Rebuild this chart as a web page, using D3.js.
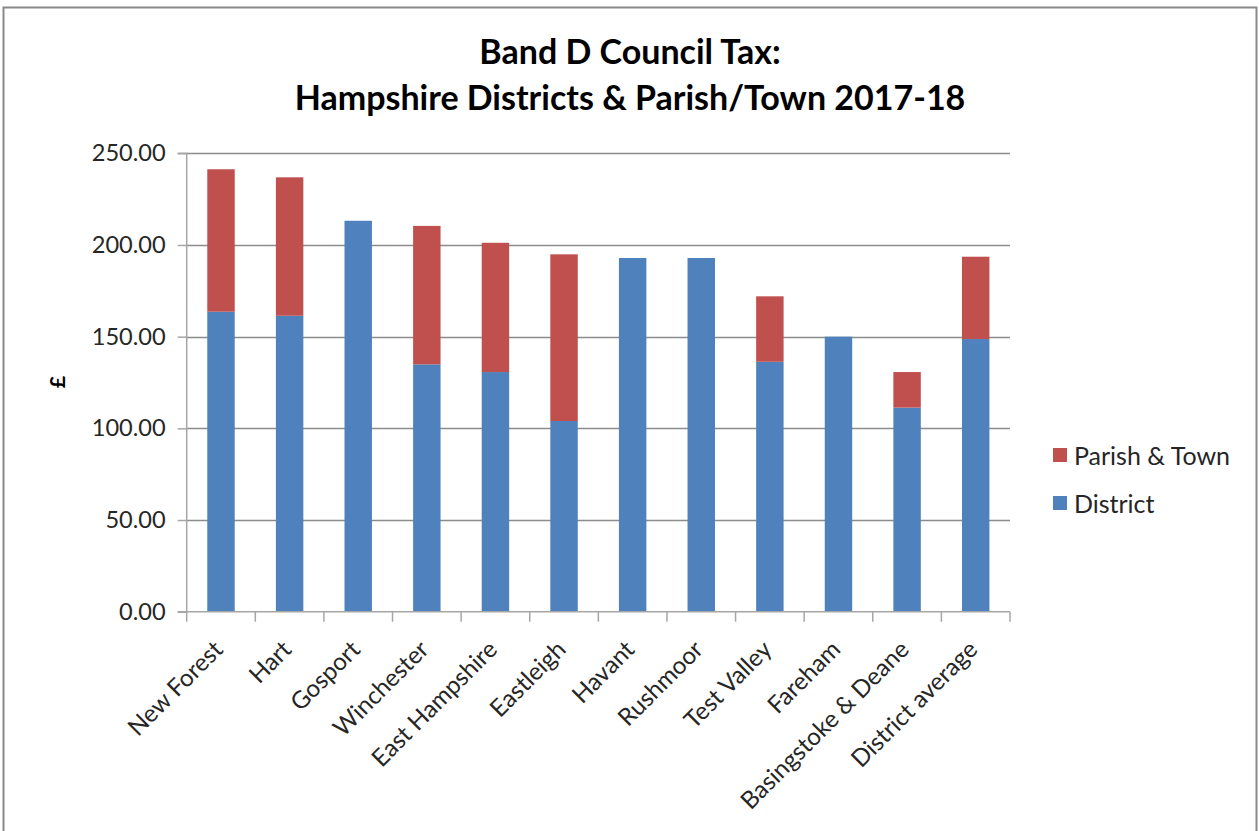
<!DOCTYPE html>
<html>
<head>
<meta charset="utf-8">
<script src="https://cdn.jsdelivr.net/npm/d3@7"></script>
<style>
  html, body { margin: 0; padding: 0; background: #fff; }
  svg { display: block; }
</style>
</head>
<body>
<svg id="chart" width="1259" height="831"></svg>
<script>
const categories = ["New Forest", "Hart", "Gosport", "Winchester", "East Hampshire", "Eastleigh",
  "Havant", "Rushmoor", "Test Valley", "Fareham", "Basingstoke & Deane", "District average"];
const district = [163.6, 161.4, 213.2, 134.9, 130.7, 104.0, 192.9, 192.9, 136.3, 150.0, 111.3, 148.7];
const parishTown = [77.7, 75.5, 0, 75.5, 70.5, 90.9, 0, 0, 35.7, 0, 19.4, 44.9];
const yTicks = [0, 50, 100, 150, 200, 250];
const seriesNames = ["Parish & Town", "District"];
const titleLines = ["Band D Council Tax:", "Hampshire Districts & Parish/Town 2017-18"];

const FONT = "Lato, 'Open Sans', 'DejaVu Sans', sans-serif";
const colors = { "District": "#4F81BD", "Parish & Town": "#C0504D" };

const svg = d3.select("#chart");

function fitSize(text, weight, targetW) {
  const t = svg.append("text").attr("font-family", FONT).attr("font-weight", weight)
    .attr("font-size", 100).text(text);
  const w = t.node().getComputedTextLength();
  t.remove();
  return 100 * targetW / w;
}

const tickSize = fitSize("250.00", 400, 74);
const catSize = fitSize("Basingstoke & Deane", 400, 226);
const legendSize = fitSize("Parish & Town", 400, 156);
const titleSize = (fitSize(titleLines[1], 700, 672) + fitSize(titleLines[0], 700, 301)) / 2;

// frame
svg.append("rect").attr("x", 3.5).attr("y", 7.5).attr("width", 1253).attr("height", 840)
  .attr("fill", "#fff").attr("stroke", "#898989").attr("stroke-width", 2);

const plot = { left: 186.7, right: 1010, top: 153.3, bottom: 611.7 };

const x = d3.scaleBand().domain(categories).range([plot.left, plot.right])
  .paddingInner(0.6).paddingOuter(0.3);
const y = d3.scaleLinear().domain([0, 250]).range([plot.bottom, plot.top]);

// gridlines
svg.append("g").selectAll("line").data(yTicks.filter(d => d > 0)).join("line")
  .attr("x1", plot.left).attr("x2", plot.right)
  .attr("y1", d => Math.round(y(d)) + 0.5).attr("y2", d => Math.round(y(d)) + 0.5)
  .attr("stroke", "#8c8c8c").attr("stroke-width", 1.3);

// stacked bars
const rows = categories.map((c, i) => ({ cat: c, "District": district[i], "Parish & Town": parishTown[i] }));
const stack = d3.stack().keys(["District", "Parish & Town"])(rows);
svg.append("g").selectAll("g").data(stack).join("g")
  .attr("fill", d => colors[d.key])
  .selectAll("rect").data(d => d.filter(p => p[1] - p[0] > 0)).join("rect")
  .attr("x", d => x(d.data.cat))
  .attr("width", x.bandwidth())
  .attr("y", d => y(d[1]))
  .attr("height", d => y(d[0]) - y(d[1]));

// y axis
const yAxis = d3.axisLeft(y).tickValues(yTicks).tickFormat(d3.format(".2f")).tickSize(9).tickPadding(12);
const gy = svg.append("g").attr("transform", `translate(${plot.left},0)`).call(yAxis);
gy.select(".domain").attr("stroke", "#a6a6a6").attr("stroke-width", 1.5).attr("d", `M-9,${plot.top}H0V${plot.bottom}H-9`);
gy.selectAll(".tick line").attr("stroke", "#a6a6a6").attr("stroke-width", 1.5);
gy.selectAll(".tick text").attr("font-family", FONT).attr("font-size", tickSize).attr("fill", "#262626")
  .attr("x", -21);

// x axis line and boundary ticks
const boundaries = d3.range(categories.length + 1).map(i => plot.left + i * x.step());
const gx = svg.append("g");
gx.append("line").attr("x1", plot.left).attr("x2", plot.right)
  .attr("y1", plot.bottom).attr("y2", plot.bottom).attr("stroke", "#a6a6a6").attr("stroke-width", 1.5);
gx.selectAll("line.tk").data(boundaries).join("line").attr("class", "tk")
  .attr("x1", d => d).attr("x2", d => d).attr("y1", plot.bottom).attr("y2", plot.bottom + 10)
  .attr("stroke", "#a6a6a6").attr("stroke-width", 1.5);

// x labels rotated
gx.selectAll("text").data(categories).join("text")
  .attr("transform", d => `translate(${x(d) + x.bandwidth() / 2 - 9},${plot.bottom + 27}) rotate(-45)`)
  .attr("text-anchor", "end")
  .attr("dy", "0.72em")
  .attr("font-family", FONT).attr("font-size", catSize).attr("fill", "#262626")
  .text(d => d);

// y axis title
svg.append("text").attr("transform", "translate(58,382) rotate(-90)")
  .attr("text-anchor", "middle").attr("dy", "0.35em")
  .attr("font-family", FONT).attr("font-weight", 700).attr("font-size", tickSize * 0.9)
  .attr("fill", "#000").text("£");

// title
svg.append("g").selectAll("text").data(titleLines).join("text")
  .attr("x", 630).attr("y", (d, i) => 64 + i * 46)
  .attr("text-anchor", "middle")
  .attr("font-family", FONT).attr("font-weight", 700).attr("font-size", titleSize)
  .attr("fill", "#000").text(d => d);

// legend
const lg = svg.append("g").selectAll("g").data(seriesNames).join("g")
  .attr("transform", (d, i) => `translate(1053,${448 + i * 48})`);
lg.append("rect").attr("width", 14).attr("height", 14).attr("fill", d => colors[d]);
lg.append("text").attr("x", 21).attr("y", 17)
  .attr("font-family", FONT).attr("font-size", legendSize).attr("fill", "#262626").text(d => d);
</script>
</body>
</html>
